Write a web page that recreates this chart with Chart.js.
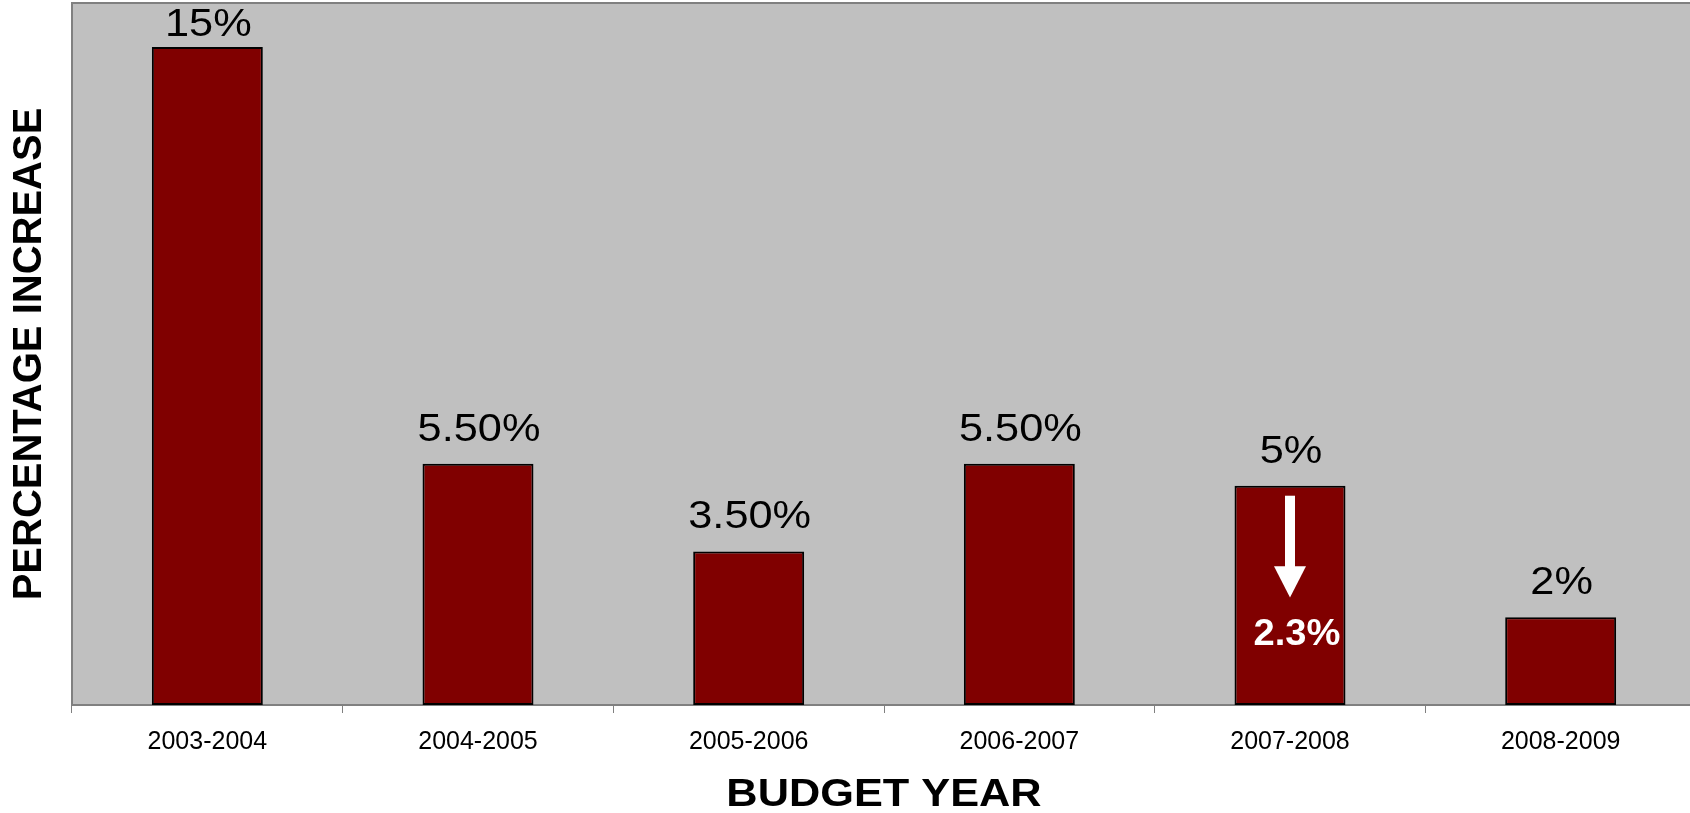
<!DOCTYPE html>
<html lang="en">
<head>
    <meta charset="UTF-8">
    <title>Budget Year Percentage Increase</title>
    <script src="https://cdn.jsdelivr.net/npm/chart.js"></script>
    <style>
        body {
            margin: 0;
            background: #ffffff;
            overflow: hidden;
        }
        canvas {
            display: block;
        }
    </style>
</head>
<body>

    <!-- a bit wider than the window: the plot runs just past the right edge -->
    <canvas id="budgetChart" width="1696" height="813"></canvas>

    <script>
        // chart data
        const budgetYears = ['2003-2004', '2004-2005', '2005-2006', '2006-2007', '2007-2008', '2008-2009'];
        const increases = [15, 5.5, 3.5, 5.5, 5, 2];
        const valueLabels = ['15%', '5.50%', '3.50%', '5.50%', '5%', '2%'];
        const xTitle = 'BUDGET YEAR';

        // draw text stretched horizontally (the original uses wide glyphs)
        function wideText(ctx, text, x, y, stretch) {
            ctx.save();
            ctx.translate(x, y);
            ctx.scale(stretch, 1);
            ctx.fillText(text, 0, 0);
            ctx.restore();
        }

        // grey plot area with a thin border
        const plotBackground = {
            id: 'plotBackground',
            beforeDraw(chart) {
                const { ctx, chartArea } = chart;
                ctx.save();
                ctx.fillStyle = '#c0c0c0';
                ctx.fillRect(chartArea.left, chartArea.top, chartArea.right - chartArea.left, chartArea.bottom - chartArea.top);
                ctx.strokeStyle = '#808080';
                ctx.lineWidth = 2;
                ctx.strokeRect(chartArea.left, chartArea.top, chartArea.right - chartArea.left + 10, chartArea.bottom - chartArea.top);
                ctx.restore();
            }
        };

        // value labels above each bar
        const barLabels = {
            id: 'barLabels',
            afterDatasetsDraw(chart) {
                const { ctx } = chart;
                const meta = chart.getDatasetMeta(0);
                ctx.save();
                ctx.font = '38px Arial, "Liberation Sans", sans-serif';
                ctx.fillStyle = '#000000';
                ctx.textAlign = 'center';
                ctx.textBaseline = 'alphabetic';
                meta.data.forEach((bar, i) => {
                    const y = Math.max(bar.y - 23, chart.chartArea.top + 33);
                    wideText(ctx, valueLabels[i], bar.x + 1, y, 1.14);
                });
                ctx.restore();
            }
        };

        // the arrow and 2.3% note inside the 2007-2008 bar
        const dropNote = {
            id: 'dropNote',
            afterDatasetsDraw(chart) {
                const { ctx } = chart;
                const yScale = chart.scales.y;
                const bar = chart.getDatasetMeta(0).data[4];
                const x = bar.x;
                const shaftTop = yScale.getPixelForValue(4.77);
                const headTop = yScale.getPixelForValue(3.16);
                const tip = yScale.getPixelForValue(2.45);
                ctx.save();
                ctx.fillStyle = '#ffffff';
                ctx.fillRect(x - 5, shaftTop, 10, headTop - shaftTop + 1);
                ctx.beginPath();
                ctx.moveTo(x - 16, headTop);
                ctx.lineTo(x + 16, headTop);
                ctx.lineTo(x, tip);
                ctx.closePath();
                ctx.fill();
                ctx.font = 'bold 37px Arial, "Liberation Sans", sans-serif';
                ctx.textAlign = 'center';
                ctx.textBaseline = 'alphabetic';
                wideText(ctx, '2.3%', x + 7, yScale.getPixelForValue(1.37), 1.03);
                ctx.restore();
            }
        };

        // x axis title, drawn wide like the original
        const xAxisTitle = {
            id: 'xAxisTitle',
            afterDraw(chart) {
                const { ctx } = chart;
                const xScale = chart.scales.x;
                ctx.save();
                ctx.font = 'bold 38px Arial, "Liberation Sans", sans-serif';
                ctx.fillStyle = '#000000';
                ctx.textAlign = 'center';
                ctx.textBaseline = 'alphabetic';
                wideText(ctx, xTitle, (xScale.left + xScale.right) / 2, xScale.bottom - 7, 1.14);
                ctx.restore();
            }
        };

        const ctx = document.getElementById('budgetChart').getContext('2d');

        new Chart(ctx, {
            type: 'bar',
            data: {
                labels: budgetYears,
                datasets: [{
                    data: increases,
                    backgroundColor: '#800000',
                    borderColor: '#000000',
                    borderWidth: 2,
                    borderSkipped: false,
                    categoryPercentage: 1,
                    barPercentage: 0.41
                }]
            },
            options: {
                responsive: false,
                animation: false,
                layout: {
                    padding: { top: 3, right: 0, left: 0, bottom: 0 }
                },
                plugins: {
                    legend: { display: false },
                    tooltip: { enabled: false }
                },
                scales: {
                    x: {
                        afterFit(scale) { scale.height = 108; },
                        grid: {
                            offset: true,
                            drawOnChartArea: false,
                            drawTicks: true,
                            tickLength: 8,
                            color: '#808080'
                        },
                        border: { color: '#808080', width: 2 },
                        ticks: {
                            color: '#000000',
                            padding: 14,
                            font: { family: 'Arial, "Liberation Sans", sans-serif', size: 25 }
                        },
                        title: { display: false }
                    },
                    y: {
                        min: 0,
                        max: 16,
                        afterFit(scale) { scale.width = 72; },
                        grid: { display: false },
                        border: { display: false },
                        ticks: { display: false },
                        title: {
                            display: true,
                            text: 'PERCENTAGE INCREASE',
                            color: '#000000',
                            padding: { top: 6, bottom: 0 },
                            font: { family: 'Arial, "Liberation Sans", sans-serif', size: 40, weight: 'bold', lineHeight: 1.2 }
                        }
                    }
                }
            },
            plugins: [plotBackground, barLabels, dropNote, xAxisTitle]
        });
    </script>

</body>
</html>
